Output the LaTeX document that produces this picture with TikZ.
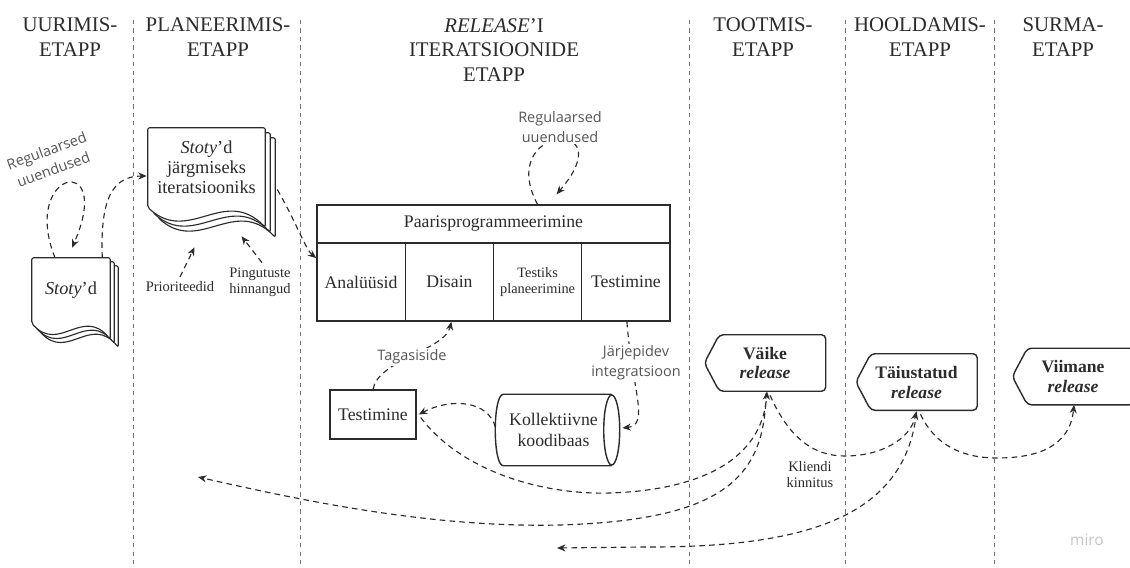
\documentclass[tikz,border=0pt]{standalone}
\usepackage{fontspec}
\setmainfont{Liberation Serif}
\newfontfamily\notefont{Open Sans}
\usetikzlibrary{arrows.meta,calc,shapes.geometric,backgrounds}
\definecolor{ink}{HTML}{2B2B2B}
\definecolor{notegray}{HTML}{555555}
\definecolor{sepgray}{HTML}{707070}

\begin{document}
\begin{tikzpicture} [
                x=0.025cm, y=-0.025cm,
                phase/.style={align=center,text=ink,inner sep=0pt,font=\fontsize{14.8}{17.7}\selectfont},
                cell/.style={draw=ink,line width=1pt,text=ink,align=center,inner sep=2pt,font=\fontsize{12.6}{15}\selectfont},
                drum/.style={draw=ink,line width=1pt},
                doc/.style={align=center,text=ink,inner sep=0pt,font=\fontsize{13}{14.2}\selectfont},
                page/.style={draw=ink,line width=0.8pt,fill=white,rounded corners=1.5pt},
                rel/.style={align=center,text=ink,inner sep=0pt,minimum width=3.02cm,font=\fontsize{12.5}{14.2}\selectfont\bfseries},
                relbox/.style={draw=ink,line width=1pt,rounded corners=3pt},
                note/.style={align=center,text=ink,font=\fontsize{10.3}{11.4}\selectfont},
                snote/.style={align=center,text=notegray,font=\notefont\fontsize{10.3}{14.2}\selectfont},
                link/.style={draw=ink,line width=0.8pt,dash pattern=on 4pt off 3pt,-{Stealth[length=6pt,width=5pt]}},
                sepline/.style={draw=sepgray,line width=0.6pt,dash pattern=on 3pt off 3pt},
            ]
            \useasboundingbox (0,0) rectangle (1130,567);
            \foreach \x in {133,300,689,845,994}
                \draw[sepline] (\x,20) -- (\x,567);
            \foreach \pos/\name/\txt in {
            {(70,37.5)/uurimis/{UURIMIS-\\ETAPP}}, {(218,37.5)/planeerimis/{PLANEERIMIS-\\ETAPP}},
            {(494,50)/iteratsioon/{\textit{RELEASE}'I\\ITERATSIOONIDE\\ETAPP}}, {(763,37.5)/tootmis/{TOOTMIS-\\ETAPP}},
            {(920,37.5)/hooldamis/{HOOLDAMIS-\\ETAPP}}, {(1063,37.5)/surma/{SURMA-\\ETAPP}}}
                \node[phase] (\name) at \pos {\txt};
            % stories
            \node[doc,minimum width=1.95cm,minimum height=1.625cm] (stotyd) at (71,290.5) {\textit{Stoty}'d};
            \node[doc,minimum width=2.925cm,minimum height=1.975cm] (stotyplan) at (206.5,167.5) {\textit{Stoty}'d\\järgmiseks\\iteratsiooniks};
            \begin{scope}[on background layer]
                \fill[white] (0,0) rectangle (1130,567);
                \foreach \doc/\s/\w in {stotyd/4/16, stotyplan/5/20}
                    \foreach \k in {2,1,0} {
                        \pgfmathsetmacro\off{\k*\s}
                        \draw[page] ($(\doc.south west)+(\off,\off)$) -- ($(\doc.north west)+(\off,\off)$)
                            -- ($(\doc.north east)+(\off,\off)$) -- ($(\doc.south east)+(\off,\off+\w)$)
                            .. controls ($(\doc.south west)!0.65!(\doc.south east)+(\off,\off-1.1*\w)$)
                            and ($(\doc.south west)!0.35!(\doc.south east)+(\off,\off+1.9*\w)$)
                            .. ($(\doc.south west)+(\off,\off)$) -- cycle;
                    }
            \end{scope}
            % iteration table
            \node[cell,minimum width=8.825cm,minimum height=0.95cm] (paaris) at (493.5,224) {Paarisprogrammeerimine};
            \foreach \pos/\name/\txt in {361.1/analuusid/Analüüsid, 449.4/disain/Disain, 625.9/testimine/Testimine}
                \node[cell,minimum width=2.206cm,minimum height=1.95cm] (\name) at (\pos,282) {\txt};
            \node[cell,minimum width=2.206cm,minimum height=1.95cm,font=\fontsize{10.2}{10.8}\selectfont] (testplaan) at (537.6,282) {Testiks\\planeerimine};
            \node[cell,minimum width=2.15cm,minimum height=1.225cm] (testbox) at (373,414.5) {Testimine};
            % code base drum
            \node[cell,draw=none,minimum width=2.875cm,minimum height=1.75cm] (koodibaas) at (553.5,430) {Kollektiivne\\koodibaas};
            \node[drum,ellipse,inner sep=0pt,minimum width=0.4cm,minimum height=1.75cm] (koodicap) at (koodibaas.east) {};
            \draw[drum] (koodicap.north) -- ($(koodibaas.north west)+(8,0)$)
                .. controls ($(koodibaas.north west)+(-2.7,0)$) and ($(koodibaas.south west)+(-2.7,0)$)
                .. ($(koodibaas.south west)+(8,0)$) -- (koodicap.south);
            % releases
            \foreach \pos/\name/\txt in {
            {(765,363)/vaike/{Väike\\\textit{release}}}, {(916.5,382)/taiustatud/{Täiustatud\\\textit{release}}},
            {(1073,376.5)/viimane/{Viimane\\\textit{release}}}} {
                \node[rel,minimum height=1.4cm] (\name) at \pos {\txt};
                \draw[relbox] (\name.west) -- ($(\name.north west)+(15,0)$) -- (\name.north east)
                    -- (\name.south east) -- ($(\name.south west)+(15,0)$) -- cycle;
            }
            \node[note] (prio) at (180,287) {Prioriteedid};
            \node[note] (pingutus) at (260,282) {Pingutuste\\hinnangud};
            \node[note] (kliendi) at (810,475) {Kliendi\\kinnitus};
            \node[snote,rotate=20] (uuendus) at (50,160) {Regulaarsed\\uuendused};
            \coordinate (tagasi1) at (198,477);
            \coordinate (tagasi2) at (557,548);
            % connectors
            \draw[link] ($(stotyd.north)+(-16,0)$) .. controls (20,170) and (115,150) .. ($(stotyd.north)+(1,-10)$);
            \draw[link] ($(stotyd.north east)+(-8,0)$) .. controls (100,200) and (112,176) .. ($(stotyplan.west)+(-1,8.5)$);
            \draw[link] ($(stotyplan.east)+(12,22)$) .. controls (295,220) and (306,250) .. ($(analuusid.west)+(0,-24)$);
            \draw[link] (prio.north) -- ($(stotyplan.south)+(-12,40)$);
            \draw[link] ($(pingutus.north)+(2,0)$) -- ($(stotyplan.south)+(35,29)$);
            \draw[link] ($(paaris.north)+(44,0)$) .. controls (495,125) and (625,115) .. ($(paaris.north)+(63,-10)$);
            \draw[link] (testbox.north) .. controls (378,360) and (445,350) .. ($(disain.south)+(2,0)$);
            \draw[link] ($(testimine.south)+(1,0)$) .. controls (632,390) and (650,425) .. ($(koodicap.east)+(2,-2)$);
            \draw[link] ($(koodibaas.west)+(0,-3)$) .. controls (488,400) and (450,398) .. ($(testbox.east)+(2,0)$);
            \draw[link] ($(testbox.east)+(4,3)$) .. controls (460,470) and (540,495) .. (610,493)
                .. controls (700,490) and (762,460) .. ($(vaike.south)+(2,0)$);
            \draw[link] ($(vaike.south)+(1,2)$) .. controls (765,480) and (720,520) .. (560,525)
                .. controls (430,528) and (300,500) .. (tagasi1);
            \draw[link] ($(taiustatud.south)+(0,2)$) .. controls (905,520) and (800,548) .. (640,547) -- (tagasi2);
            \draw[link] ($(vaike.south)+(5,4)$) .. controls (790,440) and (815,456) .. (845,456)
                .. controls (880,456) and (910,440) .. ($(taiustatud.south)+(0,1)$);
            \draw[link] ($(taiustatud.south)+(4,4)$) .. controls (935,445) and (962,458) .. (997,458)
                .. controls (1040,458) and (1070,445) .. ($(viimane.south)+(1,0)$);
            % labels over the connectors
            \node[snote,fill=white,inner sep=1pt] (uuendus2) at (560,127) {Regulaarsed\\uuendused};
            \node[snote,fill=white,inner sep=1pt] (tagasiside) at (412,357) {Tagasiside};
            \node[snote,fill=white,inner sep=1pt] (jarjepidev) at (636,363) {Järjepidev\\integratsioon};
            \node[text=black!22,font=\notefont\fontsize{11}{12}\selectfont] (miro) at (1087,540) {miro};
        \end{tikzpicture}
\end{document}
